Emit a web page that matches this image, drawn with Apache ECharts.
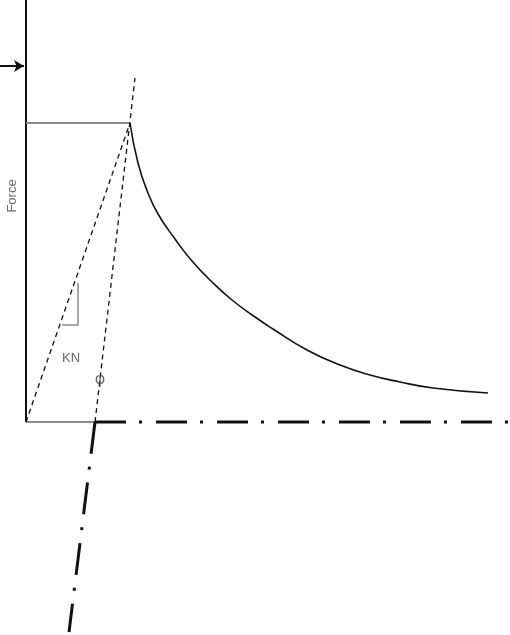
<!DOCTYPE html>
<html>
<head>
<meta charset="utf-8">
<script src="https://cdn.jsdelivr.net/npm/echarts@6/dist/echarts.min.js"></script>
<style>html,body{margin:0;padding:0;background:#fff}#c{width:510px;height:635px}</style>
</head>
<body>
<div id="c"></div>
<script>
// Displacement (x) and Force (y) in diagram units; origin at the axes' corner
const peak = [10.4, 29.9];
const softeningX = [10.4, 11.2, 12.2, 13.2, 14.9, 16.6, 18.6, 20.6, 22.9, 24.7, 28.1, 31.4, 34.4, 37.4, 40.7, 46.2];
const softeningY = [29.9, 25.9, 22.9, 20.8, 18.3, 16.1, 14.0, 12.2, 10.5, 9.3, 7.2, 5.7, 4.7, 4.0, 3.4, 2.9];
const forceAxisTop = 42.2;
const shiftX = 6.9;                 // where the steep line meets the baseline
const steepTop = [10.9, 34.4];      // dashed extension above the peak
const steepBottom = [4.3, -21.0];   // dash-dot continuation below baseline
const baselineEnd = 48.4;
const arrowY = 35.6;
const arrowFrom = -2.6, arrowTo = -0.2;
const stiffTriX = [3.6, 5.2, 5.2];
const stiffTriY = [9.7, 9.7, 13.9];
const labelKN = [4.5, 6.4];
const labelPhi = [7.4, 4.2];
const labelForce = [-1.4, 22.6];

const pts = (xs, ys) => xs.map((x, i) => [x, ys[i]]);
const black = '#111';
const gray = '#8a8a8a';

function seg(data, style) {
  return { type: 'line', data, symbol: 'none', silent: true, animation: false,
           lineStyle: style, z: style.z || 2 };
}

const option = {
  animation: false,
  grid: { left: 0, right: 0, top: 0, bottom: 0 },
  xAxis: { type: 'value', min: -2.6, max: 48.4, show: false },
  yAxis: { type: 'value', min: -21.3, max: 42.2, show: false },
  series: [
    seg([[0, 0], [0, forceAxisTop]], { color: black, width: 2 }),
    seg([[0, peak[1]], peak], { color: gray, width: 2 }),
    seg([[0, 0], [shiftX, 0]], { color: gray, width: 2 }),
    seg([[shiftX, 0], [baselineEnd, 0]], { color: black, width: 3, type: [31, 13, 3, 14], cap: 'butt' }),
    seg([[0, 0], peak], { color: black, width: 1.3, type: [5, 4] }),
    seg([[shiftX, 0], steepTop], { color: black, width: 1.3, type: [5, 4] }),
    seg([[shiftX, 0], steepBottom], { color: black, width: 3, type: [32, 13, 3, 13], cap: 'butt' }),
    { type: 'line', data: pts(softeningX, softeningY), smooth: 0.5, symbol: 'none', silent: true,
      lineStyle: { color: black, width: 1.6 }, z: 3 },
    seg(pts(stiffTriX, stiffTriY), { color: gray, width: 1.5 }),
    { type: 'line', data: [], silent: true,
      markLine: { silent: true, symbol: ['none', 'arrow'], symbolSize: [9, 10], label: { show: false },
        lineStyle: { color: black, width: 2, type: 'solid' },
        data: [[{ coord: [arrowFrom, arrowY] }, { coord: [arrowTo, arrowY] }]] } },
    { type: 'scatter', symbolSize: 0, silent: true,
      data: [
        { value: labelKN, label: { show: true, formatter: 'KN', position: 'inside', color: '#444', fontSize: 13, fontFamily: 'Liberation Sans' } },
        { value: labelPhi, label: { show: true, formatter: 'φ', position: 'inside', color: '#444', fontSize: 16, fontFamily: 'DejaVu Sans' } },
        { value: labelForce, label: { show: true, formatter: 'Force', position: 'inside', rotate: 90, color: '#444', fontSize: 13, fontFamily: 'Liberation Sans' } }
      ] }
  ]
};
echarts.init(document.getElementById('c'), null, { renderer: 'canvas' }).setOption(option);
</script>
</body>
</html>
